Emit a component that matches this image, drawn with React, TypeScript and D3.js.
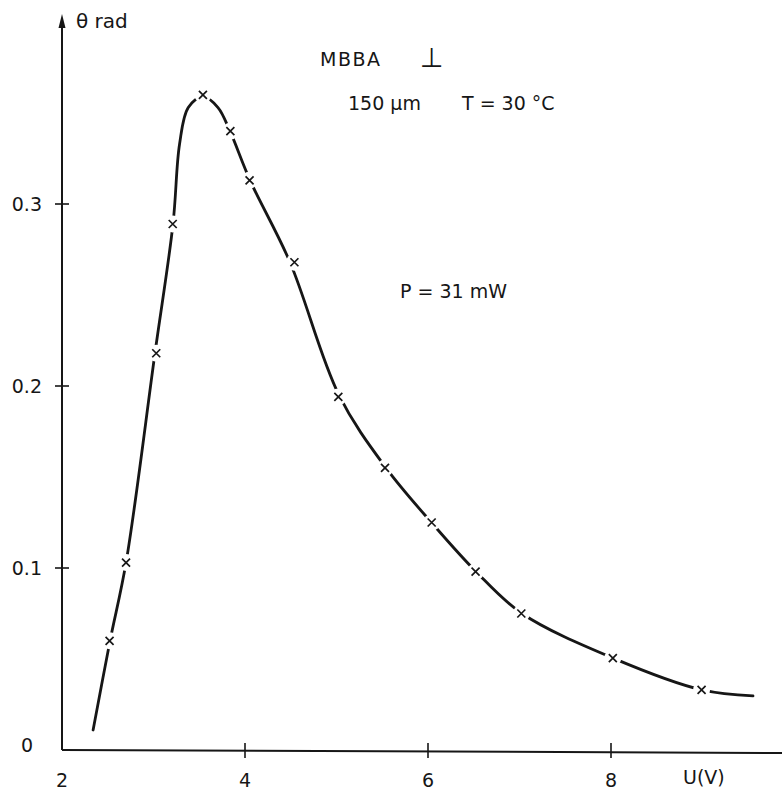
import React, { useRef, useEffect } from "react";
import * as d3 from "d3";

// measured points (the crosses)
const uValues = [2.52, 2.7, 3.03, 3.21, 3.54, 3.84, 4.05, 4.54, 5.02, 5.53, 6.04, 6.52, 7.02, 8.02, 8.99];
const thetaValues = [0.06, 0.103, 0.218, 0.289, 0.36, 0.34, 0.313, 0.268, 0.194, 0.155, 0.125, 0.098, 0.075, 0.0505, 0.033];

// hand-drawn fit
const curveU = [2.34, 2.525, 2.7, 3.016, 3.213, 3.285, 3.38, 3.541, 3.705, 3.836, 4.055, 4.492, 5.027, 5.541, 6.055, 6.525, 7.027, 8.022, 8.995, 9.552];
const curveTheta = [0.011, 0.06, 0.103, 0.218, 0.289, 0.333, 0.353, 0.359, 0.353, 0.34, 0.313, 0.268, 0.195, 0.155, 0.124, 0.098, 0.075, 0.0505, 0.033, 0.0297];

const xTicks = [2, 4, 6, 8];
const yTicks = [0, 0.1, 0.2, 0.3];

const W = 782;
const H = 801;
const FONT = "'DejaVu Sans', 'Liberation Sans', sans-serif";

const App = () => {
  const ref = useRef<SVGSVGElement>(null);

  useEffect(() => {
    const svg = d3.select(ref.current);
    svg.selectAll("*").remove();

    const x = d3.scaleLinear().domain([2, 10]).range([62, 794]);
    const y = d3.scaleLinear().domain([0, 0.4]).range([750, 22]);

    svg.append("rect").attr("width", W).attr("height", H).attr("fill", "#fff");

    const ink = "#161616";

    // axes
    svg.append("line")
      .attr("x1", x(2)).attr("x2", x(2))
      .attr("y1", y(0)).attr("y2", 26)
      .attr("stroke", ink).attr("stroke-width", 2);
    svg.append("path")
      .attr("d", `M${x(2) - 3.5},28 L${x(2)},14 L${x(2) + 3.5},28 Z`)
      .attr("fill", ink);
    svg.append("line")
      .attr("x1", x(2)).attr("x2", W)
      .attr("y1", y(0)).attr("y2", y(0) + 3)
      .attr("stroke", ink).attr("stroke-width", 2);

    // x ticks + labels
    xTicks.forEach((t) => {
      if (t !== 2) {
        svg.append("line")
          .attr("x1", x(t)).attr("x2", x(t))
          .attr("y1", y(0) - 7).attr("y2", y(0) + 8)
          .attr("stroke", ink).attr("stroke-width", 1.6);
      }
      svg.append("text")
        .attr("x", x(t)).attr("y", 787)
        .attr("text-anchor", "middle")
        .attr("font-family", FONT).attr("font-size", 19)
        .attr("fill", ink)
        .text(String(t));
    });
    svg.append("text")
      .attr("x", 683).attr("y", 784)
      .attr("font-family", FONT).attr("font-size", 19)
      .attr("fill", ink)
      .text("U(V)");

    // y ticks + labels
    yTicks.forEach((t) => {
      if (t !== 0) {
        svg.append("line")
          .attr("x1", x(2) - 7).attr("x2", x(2) + 7)
          .attr("y1", y(t)).attr("y2", y(t))
          .attr("stroke", ink).attr("stroke-width", 1.6);
      }
      svg.append("text")
        .attr("x", t === 0 ? 33 : 42)
        .attr("y", t === 0 ? y(t) - 5 : y(t))
        .attr("dy", "0.35em")
        .attr("text-anchor", "end")
        .attr("font-family", FONT).attr("font-size", 19)
        .attr("fill", ink)
        .text(t === 0 ? "0" : String(t));
    });
    svg.append("text")
      .attr("x", 76).attr("y", 28)
      .attr("font-family", FONT).attr("font-size", 20)
      .attr("fill", ink)
      .text("θ rad");

    // annotations
    const ann = svg.append("g")
      .attr("font-family", FONT).attr("font-size", 19).attr("fill", ink);
    ann.append("text").attr("x", 320).attr("y", 66)
      .attr("letter-spacing", 1.5).text("MBBA");
    ann.append("text").attr("x", 420).attr("y", 67)
      .attr("font-size", 27).text("⊥");
    ann.append("text").attr("x", 348).attr("y", 110).text("150 μm");
    ann.append("text").attr("x", 462).attr("y", 110).text("T = 30 °C");
    ann.append("text").attr("x", 400).attr("y", 298).text("P = 31 mW");

    // curve
    const pts = curveU.map((u, i) => [u, curveTheta[i]] as [number, number]);
    const line = d3.line<[number, number]>()
      .x((d) => x(d[0]))
      .y((d) => y(d[1]))
      .curve(d3.curveCatmullRom.alpha(0.5));
    svg.append("path")
      .attr("d", line(pts))
      .attr("fill", "none")
      .attr("stroke", ink)
      .attr("stroke-width", 2.8)
      .attr("stroke-linecap", "round");

    // gaps and crosses
    const marks = svg.append("g");
    uValues.forEach((u, i) => {
      const cx = x(u);
      const cy = y(thetaValues[i]);
      marks.append("circle")
        .attr("cx", cx).attr("cy", cy).attr("r", 8.5)
        .attr("fill", "#fff");
      marks.append("path")
        .attr("d", `M${cx - 4},${cy - 4}L${cx + 4},${cy + 4}M${cx - 4},${cy + 4}L${cx + 4},${cy - 4}`)
        .attr("stroke", ink)
        .attr("stroke-width", 1.7);
    });
  }, []);

  return (
    <svg
      ref={ref}
      width={W}
      height={H}
      style={{ position: "absolute", left: 0, top: 0, display: "block" }}
    />
  );
};

export default App;
